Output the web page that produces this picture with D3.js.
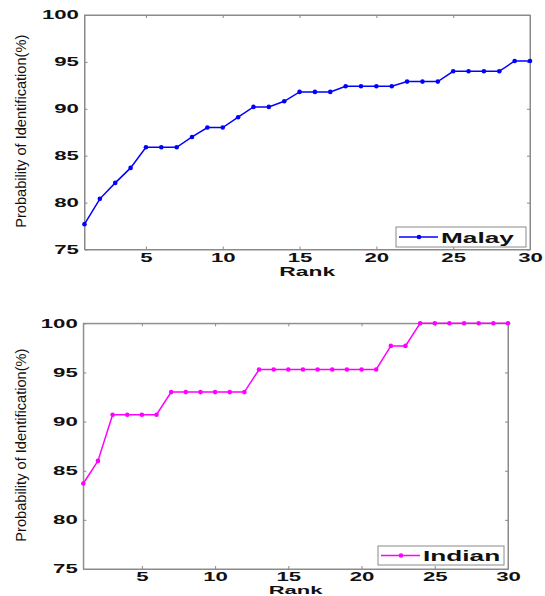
<!DOCTYPE html>
<html>
<head>
<meta charset="utf-8">
<script src="https://cdn.jsdelivr.net/npm/d3@7"></script>
<style>
  html, body { margin: 0; padding: 0; background: #ffffff; }
  svg { display: block; }
</style>
</head>
<body>
<svg id="chart" width="545" height="596"></svg>
<script>
// ---- data ----
const ranks = d3.range(1, 31);
const malay = [77.7, 80.4, 82.1, 83.7, 85.9, 85.9, 85.9, 87.0, 88.0, 88.0,
               89.1, 90.2, 90.2, 90.8, 91.8, 91.8, 91.8, 92.4, 92.4, 92.4,
               92.4, 92.9, 92.9, 92.9, 94.0, 94.0, 94.0, 94.0, 95.1, 95.1];
const indian = [83.7, 86.0, 90.7, 90.7, 90.7, 90.7, 93.0, 93.0, 93.0, 93.0,
                93.0, 93.0, 95.3, 95.3, 95.3, 95.3, 95.3, 95.3, 95.3, 95.3,
                95.3, 97.7, 97.7, 100, 100, 100, 100, 100, 100, 100];
const xTicks = [5, 10, 15, 20, 25, 30];
const yTicks = [75, 80, 85, 90, 95, 100];
const xLabel = "Rank";
const yLabel = "Probability of Identification(%)";

const svg = d3.select("#chart");
const FONT = "'Liberation Sans', Arial, Helvetica, sans-serif";
const AXIS_COLOR = "#8a8a8a";
const SX = 1.85; // horizontal stretch of the text in the reference

const panels = [
  { name: "Malay", values: malay, color: "#0000ff",
    left: 84.5, right: 530, top: 15, bottom: 249.5, pad: 4,
    xl: { dy: 26, size: 13, sx: 1.76 },
    legend: { x0: 396, x1: 526, y0: 227, y1: 247 } },
  { name: "Indian", values: indian, color: "#ff00ff",
    left: 83.3, right: 508, top: 323.3, bottom: 569, pad: 3,
    xl: { dy: 24.5, size: 10.5, sx: 2.1 },
    legend: { x0: 378, x1: 504, y0: 546, y1: 565 } }
];

panels.forEach(p => {
  const g = svg.append("g");
  const x = d3.scaleLinear().domain([1, 30]).range([p.left, p.right]);
  const y = d3.scaleLinear().domain([75, 100]).range([p.bottom, p.top]);

  // frame
  g.append("rect")
    .attr("x", p.left).attr("y", p.top)
    .attr("width", p.right - p.left).attr("height", p.bottom - p.top)
    .attr("fill", "#fff").attr("stroke", AXIS_COLOR).attr("stroke-width", 1);

  // axes
  const styleAxis = sel => {
    sel.selectAll("path.domain").attr("stroke", AXIS_COLOR);
    sel.selectAll(".tick line").attr("stroke", AXIS_COLOR);
    sel.selectAll("text")
      .attr("fill", "#111")
      .attr("font-family", FONT)
      .attr("font-weight", "bold")
      .attr("font-size", 12);
  };

  const gx = g.append("g").attr("transform", `translate(0,${p.bottom})`)
    .call(d3.axisBottom(x).tickValues(xTicks).tickSizeInner(-3).tickSizeOuter(0).tickPadding(p.pad))
    .call(styleAxis);
  gx.selectAll(".tick text").attr("transform", `scale(${SX},1)`);

  g.append("g").attr("transform", `translate(0,${p.top})`)
    .call(d3.axisTop(x).tickValues(xTicks).tickSizeInner(-3).tickSizeOuter(0).tickFormat(""))
    .call(styleAxis);

  const gy = g.append("g").attr("transform", `translate(${p.left},0)`)
    .call(d3.axisLeft(y).tickValues(yTicks).tickSizeInner(-3).tickSizeOuter(0).tickPadding(3))
    .call(styleAxis);
  gy.selectAll(".tick text").attr("transform", `scale(${SX},1)`);

  g.append("g").attr("transform", `translate(${p.right},0)`)
    .call(d3.axisRight(y).tickValues(yTicks).tickSizeInner(-3).tickSizeOuter(0).tickFormat(""))
    .call(styleAxis);

  // x label
  g.append("text")
    .attr("transform", `translate(${(p.left + p.right) / 2},${p.bottom + p.xl.dy}) scale(${p.xl.sx},1)`)
    .attr("text-anchor", "middle")
    .attr("font-family", FONT).attr("font-weight", "bold").attr("font-size", p.xl.size)
    .attr("fill", "#111")
    .text(xLabel);

  // y label
  g.append("text")
    .attr("transform", `translate(25.5,${(p.top + p.bottom) / 2 - 1}) rotate(-90)`)
    .attr("text-anchor", "middle")
    .attr("font-family", FONT).attr("font-size", 14.6)
    .attr("fill", "#111")
    .text(yLabel);

  // series
  const line = d3.line().x((d, i) => x(ranks[i])).y(d => y(d));
  g.append("path").datum(p.values)
    .attr("d", line)
    .attr("fill", "none").attr("stroke", p.color).attr("stroke-width", 1.5);
  g.selectAll("circle.pt").data(p.values).enter().append("circle")
    .attr("class", "pt")
    .attr("cx", (d, i) => x(ranks[i])).attr("cy", d => y(d))
    .attr("r", 2.3).attr("fill", p.color);

  // legend
  const L = p.legend;
  const lg = g.append("g");
  lg.append("rect")
    .attr("x", L.x0).attr("y", L.y0).attr("width", L.x1 - L.x0).attr("height", L.y1 - L.y0)
    .attr("fill", "#fff").attr("stroke", AXIS_COLOR).attr("stroke-width", 1);
  const ly = (L.y0 + L.y1) / 2;
  lg.append("line")
    .attr("x1", L.x0 + 3).attr("x2", L.x0 + 42).attr("y1", ly).attr("y2", ly)
    .attr("stroke", p.color).attr("stroke-width", 1.5);
  lg.append("circle").attr("cx", L.x0 + 23).attr("cy", ly).attr("r", 2.3).attr("fill", p.color);
  lg.append("text")
    .attr("transform", `translate(${L.x0 + 45},${ly + 5.5}) scale(1.75,1)`)
    .attr("font-family", FONT).attr("font-weight", "bold").attr("font-size", 15)
    .attr("fill", "#111")
    .text(p.name);
});
</script>
</body>
</html>
